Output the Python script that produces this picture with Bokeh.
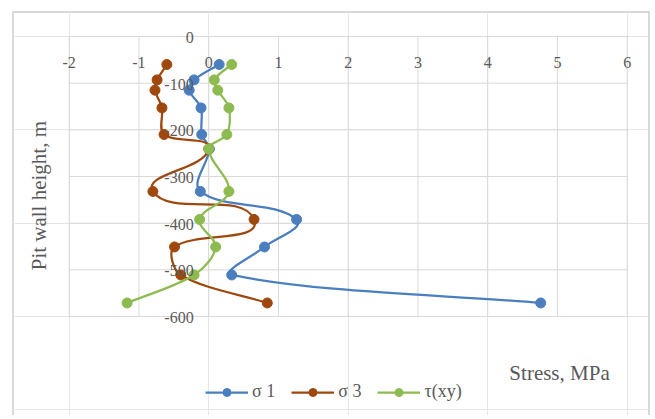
from bokeh.plotting import figure
from bokeh.models import (Range1d, LabelSet, Label, Legend, LegendItem, ColumnDataSource)
from bokeh.embed import file_html
from bokeh.resources import INLINE
import math

# ---- data ----
depth = [-60, -93, -115, -153, -210, -241, -332, -392, -451, -511, -571]
sigma1 = [0.15, -0.21, -0.28, -0.11, -0.10, 0.01, -0.12, 1.26, 0.80, 0.33, 4.76]
sigma3 = [-0.60, -0.74, -0.77, -0.67, -0.64, 0.00, -0.80, 0.65, -0.49, -0.40, 0.84]
tau_xy = [0.33, 0.08, 0.13, 0.29, 0.26, 0.00, 0.29, -0.13, 0.10, -0.21, -1.17]
series_names = ["σ 1", "σ 3", "τ(xy)"]
x_ticks = [-2, -1, 0, 1, 2, 3, 4, 5, 6]
y_ticks = [0, -100, -200, -300, -400, -500, -600]

colors = ["#4A7EBF", "#9E480E", "#8DBB50"]
FONT = "Liberation Serif"
GRID = "#d9d9d9"
TXT = "#595959"

# canvas geometry (pixels) -> data ranges so that the plot box sits where wanted
W, H = 638, 404
box_left, box_top = 54.7, 23.0          # plot box offset inside canvas
px_per_x = 558.0 / (x_ticks[-1] - x_ticks[0])
px_per_y = 280.0 / (y_ticks[0] - y_ticks[-1])
xmin = x_ticks[0] - box_left / px_per_x
xmax = xmin + W / px_per_x
ymax = y_ticks[0] + box_top / px_per_y
ymin = ymax - H / px_per_y

p = figure(width=W, height=H, x_range=Range1d(xmin, xmax), y_range=Range1d(ymin, ymax),
           x_axis_location=None, y_axis_location=None,
           output_backend="svg", toolbar_location=None,
           min_border=0)
p.outline_line_color = None
p.background_fill_color = "white"
p.border_fill_color = "white"
p.styles = {"margin-left": "12px", "margin-top": "11px",
            "border-left": "2px solid #d9d9d9", "border-top": "2px solid #d9d9d9",
            "border-right": "2px solid #d9d9d9"}

# grid lines of the plot box
x_lo, x_hi = x_ticks[0], x_ticks[-1]
y_lo, y_hi = y_ticks[-1], y_ticks[0]
p.segment(x0=x_ticks, y0=[y_lo] * len(x_ticks), x1=x_ticks, y1=[y_hi] * len(x_ticks),
          line_color=GRID, line_width=1)
p.segment(x0=[x_lo] * len(y_ticks), y0=y_ticks, x1=[x_hi] * len(y_ticks), y1=y_ticks,
          line_color=GRID, line_width=1)


def smooth(xs, ys, k=0.3):
    """Bezier control points for an Excel-like smoothed line (computed in pixel space)."""
    n = len(xs)
    X = [v * px_per_x for v in xs]
    Y = [v * px_per_y for v in ys]
    dirs = []
    for i in range(n):
        a = max(i - 1, 0)
        b = min(i + 1, n - 1)
        dx, dy = X[b] - X[a], Y[b] - Y[a]
        L = math.hypot(dx, dy) or 1.0
        dirs.append((dx / L, dy / L))
    out = {k_: [] for k_ in ["x0", "y0", "x1", "y1", "cx0", "cy0", "cx1", "cy1"]}
    for i in range(n - 1):
        seg = math.hypot(X[i + 1] - X[i], Y[i + 1] - Y[i])
        d = seg * k
        out["x0"].append(xs[i]); out["y0"].append(ys[i])
        out["x1"].append(xs[i + 1]); out["y1"].append(ys[i + 1])
        out["cx0"].append((X[i] + dirs[i][0] * d) / px_per_x)
        out["cy0"].append((Y[i] + dirs[i][1] * d) / px_per_y)
        out["cx1"].append((X[i + 1] - dirs[i + 1][0] * d) / px_per_x)
        out["cy1"].append((Y[i + 1] - dirs[i + 1][1] * d) / px_per_y)
    return out


items = []
for vals, name, col in zip([sigma1, sigma3, tau_xy], series_names, colors):
    src = ColumnDataSource(smooth(vals, depth))
    p.bezier(x0="x0", y0="y0", x1="x1", y1="y1", cx0="cx0", cy0="cy0",
             cx1="cx1", cy1="cy1", source=src, line_color=col, line_width=2.25)
    sc = p.scatter(x=vals, y=depth, size=10, fill_color=col, line_color=col)
    lr = p.line(x=[float("nan")], y=[float("nan")], line_color=col, line_width=2.25)
    items.append(LegendItem(label=name, renderers=[lr, sc]))

legend = Legend(items=items, orientation="horizontal", location=(191, 15),
                glyph_width=43, glyph_height=20, label_height=20,
                label_standoff=4, spacing=16, padding=0, margin=0,
                label_text_font=FONT, label_text_font_size="18px",
                label_text_color=TXT, border_line_color=None,
                background_fill_alpha=0)
p.add_layout(legend, "center")

# tick labels (Excel style: axes crossing at 0)
xsrc = ColumnDataSource(dict(x=x_ticks, y=[0] * len(x_ticks),
                             t=[str(v) for v in x_ticks]))
p.add_layout(LabelSet(x="x", y="y", text="t", source=xsrc, y_offset=-26,
                      text_align="center", text_baseline="middle",
                      text_font=FONT, text_font_size="16px", text_color=TXT))
ysrc = ColumnDataSource(dict(x=[0] * len(y_ticks), y=y_ticks,
                             t=[str(v) for v in y_ticks]))
p.add_layout(LabelSet(x="x", y="y", text="t", source=ysrc, x_offset=-15, y_offset=-1,
                      text_align="right", text_baseline="middle",
                      text_font=FONT, text_font_size="16px", text_color=TXT))

p.add_layout(Label(x=-2.433, y=-341, text="Pit wall height, m", angle=math.pi / 2,
                   text_align="center", text_baseline="middle", text_font=FONT,
                   text_font_size="21px", text_color=TXT))
p.add_layout(Label(x=5.03, y=-720, text="Stress, MPa",
                   text_align="center", text_baseline="middle", text_font=FONT,
                   text_font_size="21px", text_color=TXT))

open("out.html", "w").write(file_html(p, INLINE))
